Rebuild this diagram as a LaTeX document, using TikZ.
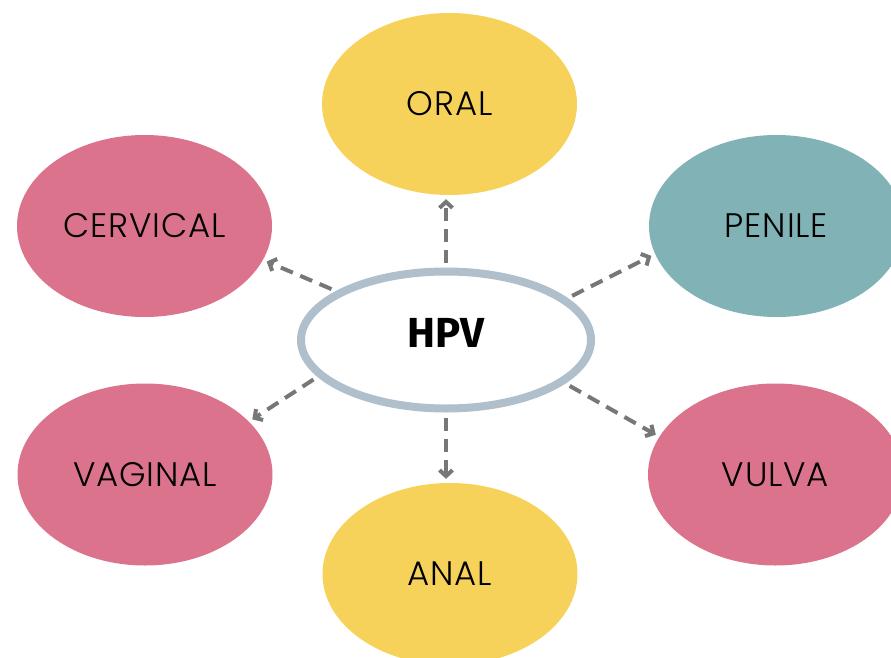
\documentclass[tikz,border=0pt]{standalone}
\usepackage{fontspec}
\usepackage{xcolor}
\usepackage{tikz}
\usetikzlibrary{shapes, arrows.meta, positioning, calc}

\setmainfont{Poppins}[UprightFont=* Light, LetterSpace=2.5]
\newfontfamily\hpvfont{Fira Sans}

\definecolor{siteyellow}{HTML}{F7D25A}
\definecolor{sitepink}{HTML}{DB738D}
\definecolor{siteteal}{HTML}{80B2B6}
\definecolor{hpvring}{HTML}{AFBFCC}
\definecolor{arrowgray}{HTML}{777777}

\begin{document}
\begin{tikzpicture}[x=1pt, y=-1pt,
   site/.style={ellipse, minimum width=255pt, minimum height=182pt, inner sep=0pt, font=\fontsize{34}{40}\selectfont},
   spread/.style={draw=arrowgray, line width=4pt, dash pattern=on 13pt off 8pt, -{Straight Barb[length=6pt,width=13pt]}, shorten <=5pt, shorten >=4pt}]
\useasboundingbox (0,0) rectangle (891,658);

% Virus in the middle
\node[ellipse, draw=hpvring, line width=8pt, fill=white, minimum width=290pt, minimum height=137pt, text depth=14pt, font=\hpvfont\bfseries\fontsize{42}{48}\selectfont] (hpv) at (446,340) {HPV};

% Sites
\foreach \name/\x/\y/\col/\txt in {oral/449.5/104/siteyellow/ORAL, cerv/144.5/226/sitepink/CERVICAL, penile/776.5/226/siteteal/PENILE, vag/145/474.5/sitepink/VAGINAL, vulva/775.5/474.5/sitepink/VULVA, anal/450/574/siteyellow/ANAL} {
   \node[site, fill=\col] (\name) at (\x,\y) {\txt};
}

% Arrows
\draw[spread] (hpv.north) -- (hpv.north |- oral.south);
\draw[spread] (hpv.south) -- (hpv.south |- anal.north);
\foreach \to/\a/\b in {cerv/156/-16, penile/19/-167, vag/-164/27, vulva/-20/162} {
   \draw[spread] (hpv.\a) -- (\to.\b);
}
\end{tikzpicture}
\end{document}
